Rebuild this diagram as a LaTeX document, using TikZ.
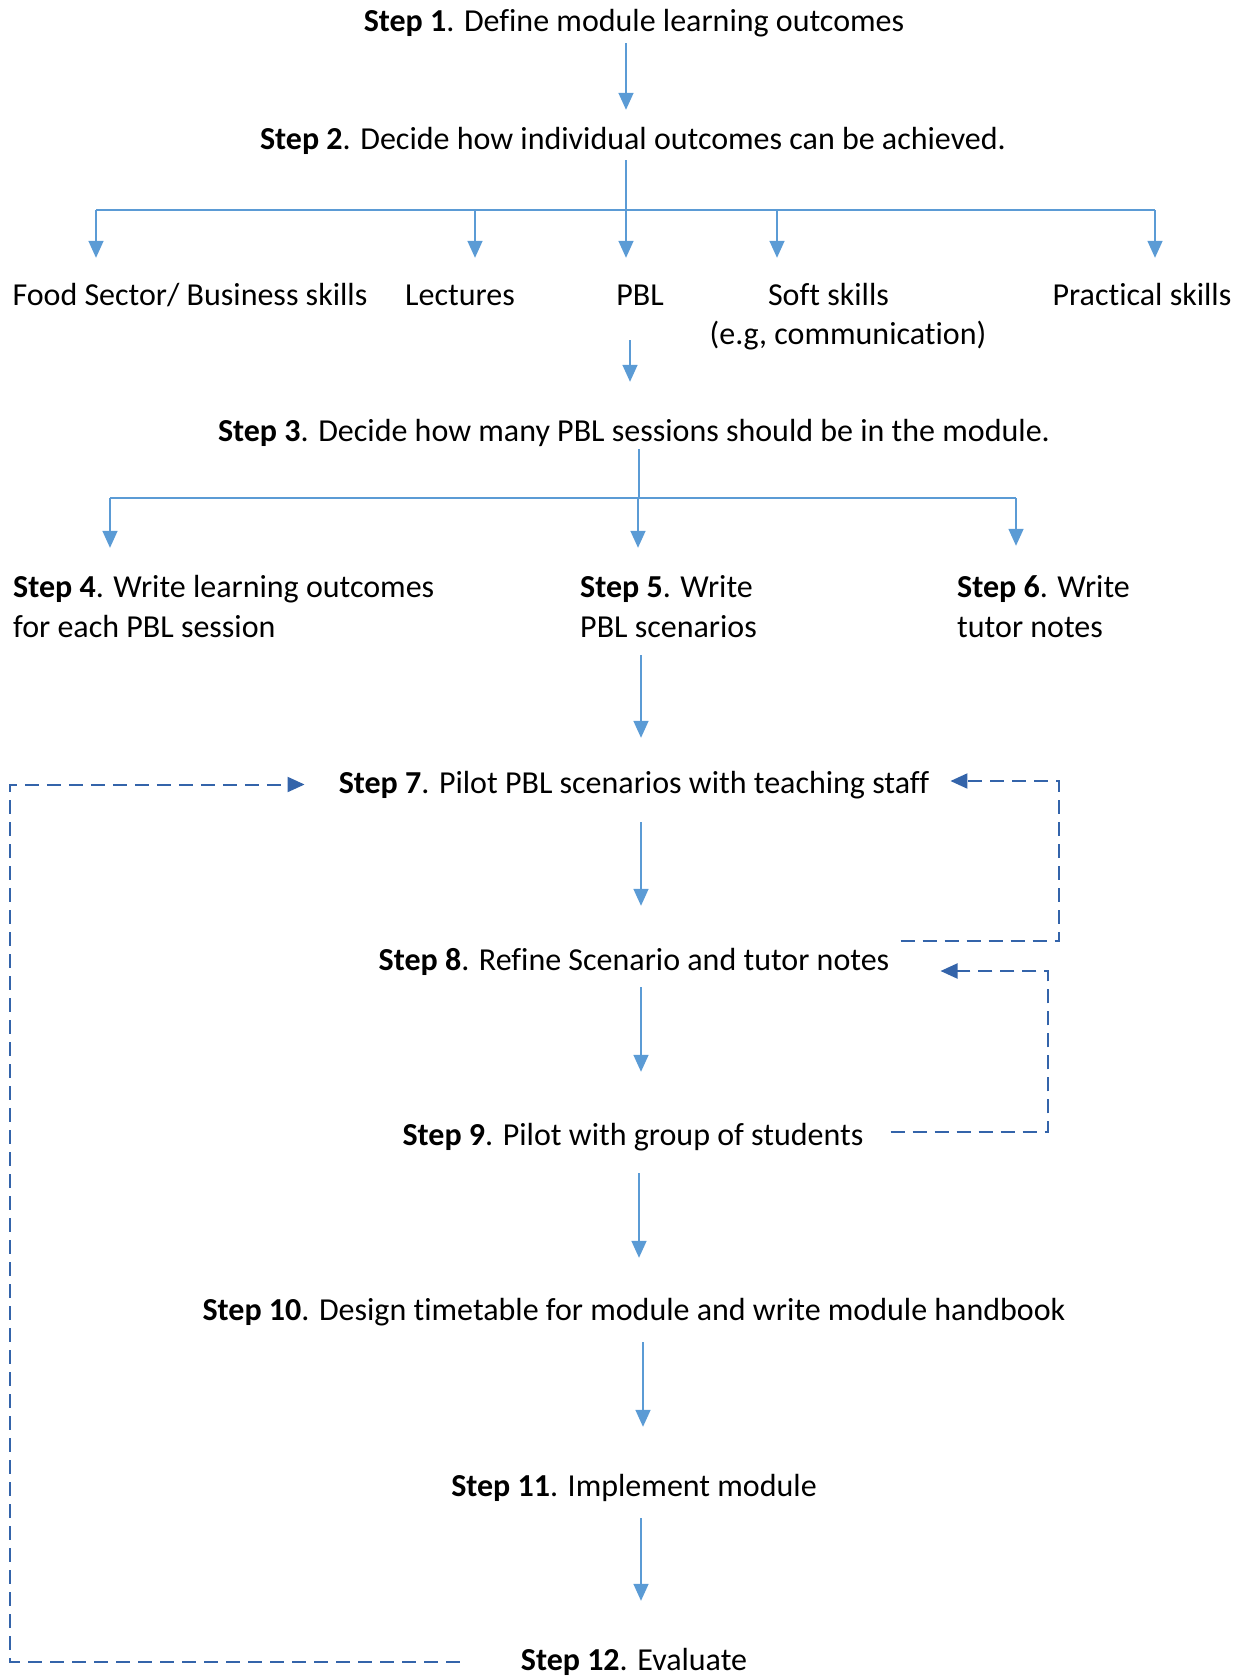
\documentclass[tikz,border=0pt]{standalone}
\usepackage{fontspec}
\setmainfont{Carlito}[Ligatures=NoCommon]
\usetikzlibrary{arrows.meta,calc}
\definecolor{lblue}{HTML}{5B9BD5}
\definecolor{dblue}{HTML}{3464AA}
\begin{document}
\begin{tikzpicture}[x=1pt,y=-1pt,
  txt/.style={inner sep=0pt, text height=20pt, text depth=7pt, font=\fontsize{32}{39}\selectfont},
  ln/.style={draw=lblue, line width=1.6pt},
  arr/.style={draw=lblue, line width=1.6pt, -{Triangle[width=15pt,length=17pt,fill=lblue]}},
  fb/.style={draw=dblue, line width=2pt, dash pattern=on 14pt off 8pt, -{Triangle[width=15pt,length=17pt,fill=dblue]}}]
\useasboundingbox (0,0) rectangle (1243,1678);

% texts
\node[txt, anchor=base] (s1) at (634,31.5) {\textbf{Step 1}. Define module learning outcomes};
\node[txt, anchor=base] (s2) at (633,149) {\textbf{Step 2}. Decide how individual outcomes can be achieved.};
\node[txt, anchor=base] (food) at (190,305) {Food Sector/ Business skills};
\node[txt, anchor=base] (lect) at (460,305) {Lectures};
\node[txt, anchor=base] (pbl) at (640,305) {PBL};
\node[txt, anchor=base] (soft) at (828.5,305) {Soft skills};
\node[txt, anchor=base] (softeg) at (848,344) {(e.g, communication)};
\node[txt, anchor=base] (prac) at (1142,305) {Practical skills};
\node[txt, anchor=base] (s3) at (634,441) {\textbf{Step 3}. Decide how many PBL sessions should be in the module.};
\node[txt, anchor=base west] (s4a) at (13,597) {\textbf{Step 4}. Write learning outcomes};
\node[txt, anchor=base west] (s4b) at (13,637) {for each PBL session};
\node[txt, anchor=base west] (s5a) at (580,597) {\textbf{Step 5}. Write};
\node[txt, anchor=base west] (s5b) at (580,637) {PBL scenarios};
\node[txt, anchor=base west] (s6a) at (957,597) {\textbf{Step 6}. Write};
\node[txt, anchor=base west] (s6b) at (957,637) {tutor notes};
\node[txt, anchor=base] (s7) at (634,793) {\textbf{Step 7}. Pilot PBL scenarios with teaching staff};
\node[txt, anchor=base] (s8) at (634,970) {\textbf{Step 8}. Refine Scenario and tutor notes};
\node[txt, anchor=base] (s9) at (633,1145) {\textbf{Step 9}. Pilot with group of students};
\node[txt, anchor=base] (s10) at (634,1320) {\textbf{Step 10}. Design timetable for module and write module handbook};
\node[txt, anchor=base] (s11) at (634,1496) {\textbf{Step 11}. Implement module};
\node[txt, anchor=base] (s12) at (634,1670) {\textbf{Step 12}. Evaluate};

% step 1 -> step 2
\draw[arr, shorten <=4.6pt, shorten >=19pt] ($(s1.south)+(-8,0)$) -- ($(s2.north)+(-7,0)$);

% branch from step 2
\coordinate (j1) at (626,210);
\coordinate (k1) at (96,210);
\coordinate (k2) at (475,210);
\coordinate (k3) at (626,210);
\coordinate (k4) at (777,210);
\coordinate (k5) at (1155,210);
\draw[ln] ($(s2.south)+(-7,4)$) -- (j1);
\draw[ln] (k1) -- (k5);
\draw[arr, shorten >=27pt] (k1) -- (k1 |- food.north);
\draw[arr, shorten >=27pt] (k2) -- (k2 |- lect.north);
\draw[arr, shorten >=27pt] (k3) -- (k3 |- pbl.north);
\draw[arr, shorten >=27pt] (k4) -- (k4 |- soft.north);
\draw[arr, shorten >=27pt] (k5) -- (k5 |- prac.north);

% PBL -> step 3
\draw[arr, shorten <=28pt, shorten >=39pt] ($(pbl.south)+(-10,0)$) -- ($(s3.north)+(-4,0)$);

% branch from step 3
\coordinate (j2) at (639,498);
\coordinate (m1) at (110,498);
\coordinate (m2) at (638,498);
\coordinate (m3) at (1016,498);
\draw[ln] ($(s3.south)+(5,1)$) -- (j2);
\draw[ln] (m1) -- (m3);
\draw[arr, shorten >=29pt] (m1) -- (m1 |- s4a.north);
\draw[arr, shorten >=29pt] (m2) -- (m2 |- s5a.north);
\draw[arr, shorten >=31pt] (m3) -- (m3 |- s6a.north);

% spine
\coordinate (sp) at (641,0);
\coordinate (spb) at (639,0);
\coordinate (spc) at (643,0);
\draw[arr, shorten <=11pt, shorten >=35pt] (s5b.south -| sp) -- (s7.north -| sp);
\draw[arr, shorten <=22pt, shorten >=44pt] (s7.south -| sp) -- (s8.north -| sp);
\draw[arr, shorten <=10pt, shorten >=53pt] (s8.south -| sp) -- (s9.north -| sp);
\draw[arr, shorten <=21pt, shorten >=42pt] (s9.south -| spb) -- (s10.north -| spb);
\draw[arr, shorten <=15pt, shorten >=49pt] (s10.south -| spc) -- (s11.north -| spc);
\draw[arr, shorten <=15pt, shorten >=49pt] (s11.south -| sp) -- (s12.north -| sp);

% feedback loops
\coordinate (fx1) at (1059,0);
\coordinate (fx2) at (1048,0);
\coordinate (fx3) at (10,0);
\coordinate (d1s) at ($(s8.east)+(11,-22.5)$);
\coordinate (d1e) at ($(s7.east)+(21,-5.5)$);
\coordinate (d2s) at ($(s9.east)+(27,-6.5)$);
\coordinate (d2e) at ($(s8.east)+(51,7.5)$);
\coordinate (d3s) at ($(s12.west)+(-61,-1.5)$);
\coordinate (d3e) at ($(s7.west)+(-34,-2)$);
\draw[fb] (d1s) -- (d1s -| fx1) -- (d1e -| fx1) -- (d1e);
\draw[fb] (d2s) -- (d2s -| fx2) -- (d2e -| fx2) -- (d2e);
\draw[fb] (d3s) -- (d3s -| fx3) -- (d3e -| fx3) -- (d3e);
\end{tikzpicture}
\end{document}
